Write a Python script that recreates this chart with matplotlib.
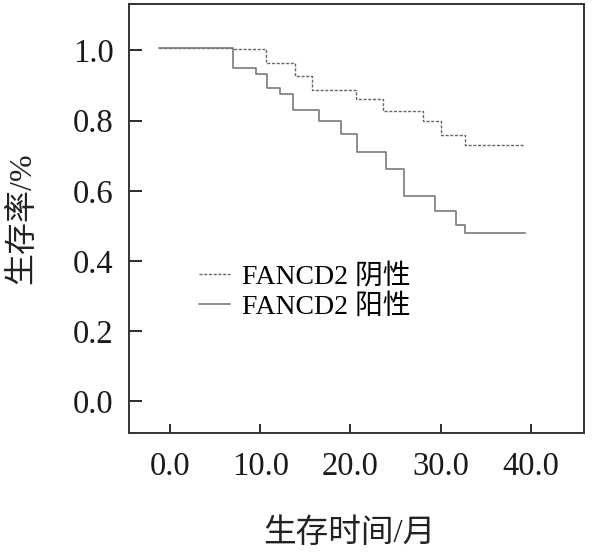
import matplotlib
matplotlib.use('Agg')
import matplotlib.pyplot as plt
import numpy as np

plt.rcParams['font.family'] = ['Liberation Serif', 'Noto Sans CJK SC']

# survival curves (step, post)
neg_t = [-1.2, 7.0, 10.6, 13.9, 15.8, 20.6, 23.6, 28.0, 30.0, 32.7, 39.3]
neg_s = [1.007, 1.004, 0.964, 0.927, 0.887, 0.861, 0.827, 0.798, 0.759, 0.731, 0.731]
pos_t = [-1.2, 7.0, 9.5, 10.8, 12.2, 13.6, 16.5, 19.0, 20.7, 23.9, 25.9, 29.4, 31.7, 32.7, 39.4]
pos_s = [1.007, 0.949, 0.934, 0.894, 0.877, 0.830, 0.798, 0.762, 0.711, 0.662, 0.585, 0.541, 0.503, 0.479, 0.479]

xticks = [0, 10, 20, 30, 40]
yticks = [0.0, 0.2, 0.4, 0.6, 0.8, 1.0]
labels = ['FANCD2 阴性', 'FANCD2 阳性']

fig = plt.figure(figsize=(5.93, 5.55), dpi=100)
ax = fig.add_axes([129/593, 1 - 433/555, (584 - 129)/593, (433 - 4)/555])

ax.step(neg_t, neg_s, where='post', color='#666666', linestyle=(0, (2.2, 1.2)), linewidth=1.0, label=labels[0])
ax.step(pos_t, pos_s, where='post', color='#7a7a7a', linestyle='-', linewidth=1.2, label=labels[1])

ax.set_xlim(-4.54, 45.9)
ax.set_ylim(-0.090, 1.132)
ax.set_xticks(xticks)
ax.set_xticklabels(['%.1f' % v for v in xticks])
ax.set_yticks(yticks)
ax.set_yticklabels(['%.1f' % v for v in yticks])

for s in ax.spines.values():
    s.set_linewidth(1.4)
    s.set_color('#333333')
ax.tick_params(axis='y', direction='in', length=9, width=1.3, pad=11, labelsize=23.5, colors='#1a1a1a')
ax.tick_params(axis='x', direction='in', length=6.5, width=1.3, pad=13, labelsize=23.5, colors='#1a1a1a')

ax.set_xlabel('生存时间/月', fontsize=23.5, labelpad=34, color='#222222')
ax.xaxis.set_label_coords(0.485, -0.2)
ax.set_ylabel('生存率/%', fontsize=23, labelpad=26, color='#222222')

ax.legend(loc='center left', bbox_to_anchor=(0.13, 0.33), frameon=False, fontsize=20,
          handlelength=1.1, handletextpad=0.45, labelspacing=0.15, borderaxespad=0)

fig.savefig('out.png', dpi=100)
